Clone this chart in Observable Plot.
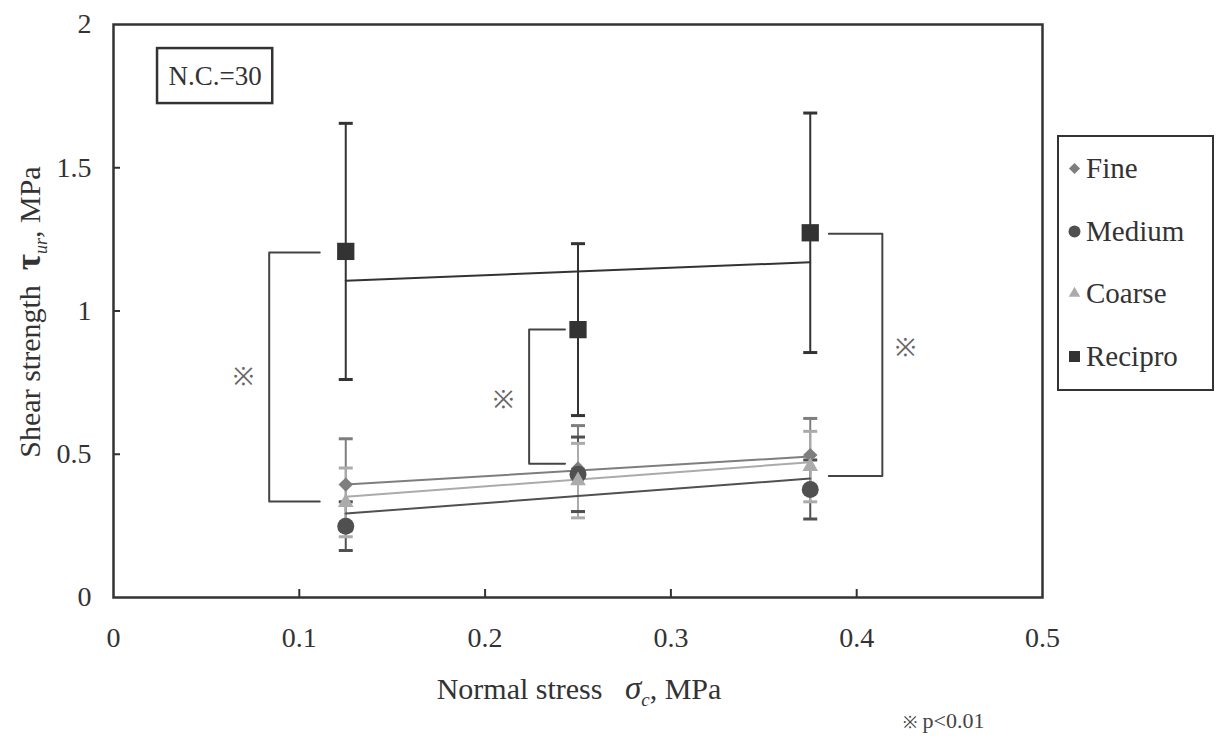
<!DOCTYPE html>
<html>
<head>
<meta charset="utf-8">
<script src="https://cdn.jsdelivr.net/npm/d3@7"></script>
<script src="https://cdn.jsdelivr.net/npm/@observablehq/plot@0.6"></script>
<style>
  body { margin: 0; background: #fff; }
  #wrap { position: relative; width: 1221px; height: 736px; font-family: "Liberation Serif", "DejaVu Serif", serif; color: #333; }
  #wrap > svg { position: absolute; left: 0; top: 0; }
  #wrap svg text { font-family: "Liberation Serif", "DejaVu Serif", serif; }
  .lbl { position: absolute; font-size: 30px; white-space: nowrap; color: #333; font-family: "Liberation Serif", "DejaVu Serif", serif; }
  #legend { position: absolute; left: 1057px; top: 135px; width: 153px; height: 252px; border: 2px solid #333; box-sizing: content-box; background: #fff; }
  .item { position: absolute; left: 6px; font-size: 29px; display: flex; align-items: center; font-family: "Liberation Serif", "DejaVu Serif", serif; color: #333; line-height: 30px; }
  .item svg { margin-right: 3px; }
</style>
</head>
<body>
<div id="wrap"></div>
<script>
// ---- data ----
const stressX = [0.125, 0.25, 0.375];
const seriesNames = ["Fine", "Medium", "Coarse", "Recipro"];
const fineMean = [0.394, 0.45, 0.497];
const fineErr = [0.16, 0.15, 0.128];
const mediumMean = [0.249, 0.43, 0.377];
const mediumErr = [0.085, 0.13, 0.103];
const coarseMean = [0.332, 0.408, 0.457];
const coarseErr = [0.12, 0.13, 0.123];
const reciproMean = [1.208, 0.935, 1.273];
const reciproErr = [0.447, 0.30, 0.418];
// fitted lines (values at x = 0.125 and 0.375)
const fitX = [0.125, 0.375];
const fineFit = [0.394, 0.492];
const mediumFit = [0.293, 0.415];
const coarseFit = [0.352, 0.472];
const reciproFit = [1.106, 1.170];
// significance brackets: [xOuter, xInner, yTop, yBottom]
const bracketLeft = [0.0838, 0.111, 1.204, 0.335];
const bracketMid = [0.2237, 0.243, 0.935, 0.467];
const bracketRight = [0.4138, 0.385, 1.27, 0.424];
const markX = [0.070, 0.210, 0.426];
const markY = [0.769, 0.690, 0.870];
const noteBox = [0.0237, 0.0857, 1.724, 1.916];
const noteText = "N.C.=30";
const yTicks = [0, 0.5, 1, 1.5, 2];
const xTicks = [0, 0.1, 0.2, 0.3, 0.4, 0.5];

const colors = {Fine: "#7e7e7e", Medium: "#505050", Coarse: "#ababab", Recipro: "#333333"};
const symbols = {Fine: "diamond2", Medium: "circle", Coarse: "triangle2", Recipro: "square2"};
const sizes = {Fine: 6.5, Medium: 8.5, Coarse: 7.5, Recipro: 11};
const legendSizes = {Fine: 5, Medium: 6, Coarse: 5.5, Recipro: 7};

const means = {Fine: fineMean, Medium: mediumMean, Coarse: coarseMean, Recipro: reciproMean};
const errs = {Fine: fineErr, Medium: mediumErr, Coarse: coarseErr, Recipro: reciproErr};
const fits = {Fine: fineFit, Medium: mediumFit, Coarse: coarseFit, Recipro: reciproFit};

const pts = [];
for (const s of seriesNames) stressX.forEach((x, i) => pts.push({s, x, y: means[s][i], lo: means[s][i] - errs[s][i], hi: means[s][i] + errs[s][i]}));
const fitRows = [];
for (const s of seriesNames) fitX.forEach((x, i) => fitRows.push({s, x, y: fits[s][i]}));
const brRows = [];
[bracketLeft, bracketMid, bracketRight].forEach((b, k) => {
  brRows.push({k, x: b[1], y: b[2]}, {k, x: b[0], y: b[2]}, {k, x: b[0], y: b[3]}, {k, x: b[1], y: b[3]});
});
const sigMarks = markX.map((x, i) => ({x, y: markY[i]}));

const capSymbol = { draw(ctx, size) { ctx.moveTo(-7, 0); ctx.lineTo(7, 0); } };

const font = "Liberation Serif";
const dotMarks = seriesNames.map(s =>
  Plot.dot(pts.filter(d => d.s === s), {x: "x", y: "y", symbol: symbols[s], r: sizes[s], fill: colors[s], stroke: "none"})
);
const plot = Plot.plot({
  width: 1221, height: 736,
  marginLeft: 113, marginRight: 179, marginTop: 24, marginBottom: 139,
  style: {fontFamily: font, background: "transparent"},
  x: {domain: [0, 0.5]},
  y: {domain: [0, 2]},
  marks: [
    Plot.axisY({ticks: yTicks, tickSize: 0, tickPadding: 22, fontSize: 28, fill: "#333", tickFormat: d => String(d), label: null}),
    Plot.axisY({ticks: [0.5, 1, 1.5], tickSize: -7, text: null, stroke: "#333", strokeWidth: 2, label: null}),
    Plot.axisX({ticks: xTicks, tickSize: 0, tickPadding: 30, fontSize: 28, fill: "#333", tickFormat: d => String(d), label: null}),
    Plot.axisX({ticks: [0.1, 0.2, 0.3, 0.4], tickSize: -8, text: null, stroke: "#333", strokeWidth: 2, label: null}),
    // note box
    Plot.rect([{x1: noteBox[0], x2: noteBox[1], y1: noteBox[2], y2: noteBox[3]}], {x1: "x1", x2: "x2", y1: "y1", y2: "y2", fill: "white", stroke: "#333", strokeWidth: 2.5}),
    Plot.text([noteText], {x: (noteBox[0] + noteBox[1]) / 2, y: (noteBox[2] + noteBox[3]) / 2, text: d => d, fontSize: 27, fill: "#333"}),
    // brackets
    Plot.line(brRows, {x: "x", y: "y", z: "k", stroke: "#444", strokeWidth: 2}),
    Plot.text(sigMarks, {x: "x", y: "y", text: () => "※", fontSize: 25, fill: "#666"}),
    // error bars
    Plot.ruleX(pts, {x: "x", y1: "lo", y2: "hi", stroke: d => colors[d.s], strokeWidth: 2}),
    Plot.dot(pts, {x: "x", y: "hi", symbol: () => capSymbol, stroke: d => colors[d.s], strokeWidth: 3}),
    Plot.dot(pts, {x: "x", y: "lo", symbol: () => capSymbol, stroke: d => colors[d.s], strokeWidth: 3}),
    // fitted lines
    Plot.line(fitRows, {x: "x", y: "y", z: "s", stroke: d => colors[d.s], strokeWidth: 2}),
    // points
    ...dotMarks,
    Plot.frame({stroke: "#333", strokeWidth: 2.5})
  ]
});
const wrap = document.getElementById("wrap");
wrap.appendChild(plot);

// axis titles and footnote
const yl = document.createElement("div");
yl.className = "lbl";
yl.innerHTML = 'Shear strength&nbsp;&nbsp;<b style="font-size:35px">τ</b><sub style="font-style:italic;font-size:18px">ur</sub>, MPa';
yl.style.cssText = "left:30px;top:312px;transform:translate(-50%,-50%) rotate(-90deg);";
wrap.appendChild(yl);
const xl = document.createElement("div");
xl.className = "lbl";
xl.innerHTML = 'Normal stress&nbsp;&nbsp;&nbsp;<i style="font-size:33px">σ</i><sub style="font-style:italic;font-size:19px">c</sub>, MPa';
xl.style.cssText = "left:579px;top:690px;transform:translate(-50%,-50%);";
wrap.appendChild(xl);
const fn = document.createElement("div");
fn.className = "lbl";
fn.style.cssText = "left:903px;top:708px;font-size:22px;color:#444;";
fn.innerHTML = '<span style="font-size:17px">※</span> p&lt;0.01';
wrap.appendChild(fn);

// legend
const lg = document.createElement("div");
lg.id = "legend";
seriesNames.forEach((s, i) => {
  const it = document.createElement("div");
  it.className = "item";
  it.style.top = (16 + i * 62.5) + "px";
  const sw = Plot.plot({
    width: 18, height: 18, margin: 0, x: {domain: [0, 1], axis: null}, y: {domain: [0, 1], axis: null},
    marks: [Plot.dot([s], {x: 0.5, y: 0.5, symbol: symbols[s], r: legendSizes[s], fill: colors[s]})]
  });
  it.appendChild(sw);
  const t = document.createElement("span");
  t.textContent = s;
  it.appendChild(t);
  lg.appendChild(it);
});
wrap.appendChild(lg);
</script>
</body>
</html>
